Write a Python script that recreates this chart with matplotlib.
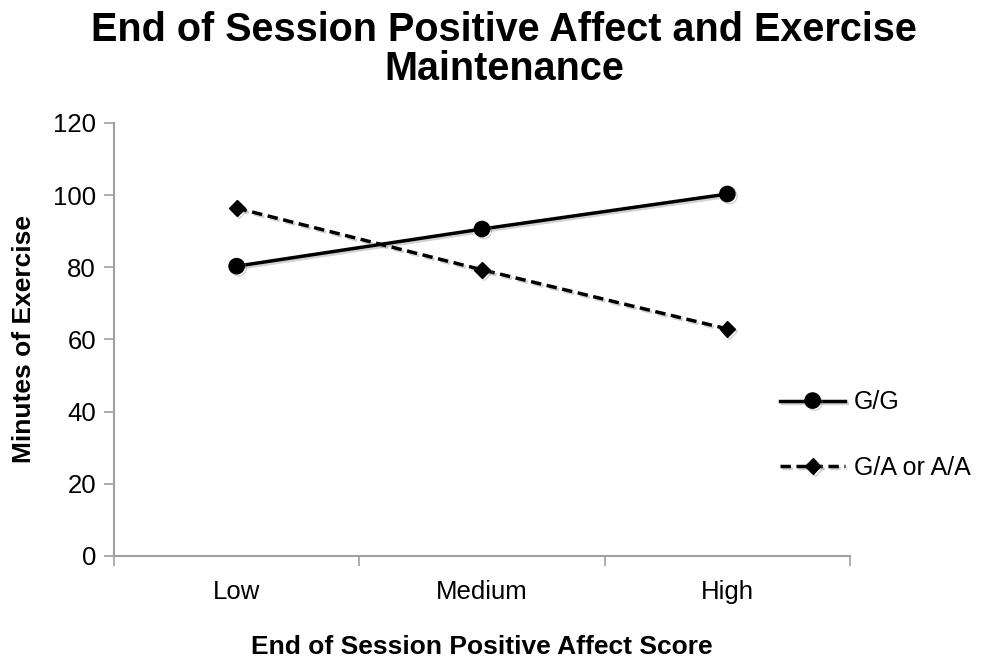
import numpy as np
import matplotlib.pyplot as plt
from matplotlib import patheffects as pe

plt.rcParams['font.family'] = ['Liberation Sans', 'DejaVu Sans']

categories = ['Low', 'Medium', 'High']
gg = [80.3, 90.6, 100.3]
ga_aa = [96.4, 79.3, 62.9]

fig = plt.figure(figsize=(9.85, 6.61), dpi=100)
ax = fig.add_axes([0.1157, 0.159, 0.7473, 0.655])

x = np.arange(len(categories))
shadow = [pe.SimpleLineShadow(offset=(1.5, -1.5), alpha=0.35, shadow_color='gray'), pe.Normal()]

ax.plot(x, gg, color='black', linewidth=2.5, marker='o', markersize=11,
        label='G/G', path_effects=shadow)
ax.plot(x, ga_aa, color='black', linewidth=2.5, linestyle=(0, (3, 1.6)), marker='D',
        markersize=8, label='G/A or A/A', path_effects=shadow)

ax.set_xlim(-0.5, 2.5)
ax.set_ylim(0, 120)
ax.set_yticks(range(0, 121, 20))
ax.set_xticks(x)
ax.set_xticklabels(categories)
ax.set_xticks([-0.5, 0.5, 1.5, 2.5], minor=True)
ax.tick_params(axis='x', which='major', length=0, pad=17, labelsize=18.5)
ax.tick_params(axis='x', which='minor', length=7, width=1.2, color='#a0a0a0', direction='out')
ax.tick_params(axis='y', length=7, width=1.2, color='#a0a0a0', labelsize=18.5, pad=6)

for side in ['top', 'right']:
    ax.spines[side].set_visible(False)
for side in ['left', 'bottom']:
    ax.spines[side].set_color('#a0a0a0')
    ax.spines[side].set_linewidth(1.5)

ax.set_ylabel('Minutes of Exercise', fontsize=19, fontweight='bold', labelpad=12)
ax.set_xlabel('End of Session Positive Affect Score', fontsize=19, fontweight='bold', labelpad=23)
fig.suptitle('End of Session Positive Affect and Exercise\nMaintenance', fontsize=28.5,
             fontweight='bold', x=0.512, y=0.983, linespacing=1.03)

fig.legend(loc='center left', bbox_to_anchor=(0.792, 0.342), frameon=False, fontsize=18,
           handlelength=2.6, handletextpad=0.35, labelspacing=1.65,
           borderpad=0, borderaxespad=0)

fig.savefig('out.png', dpi=100)
